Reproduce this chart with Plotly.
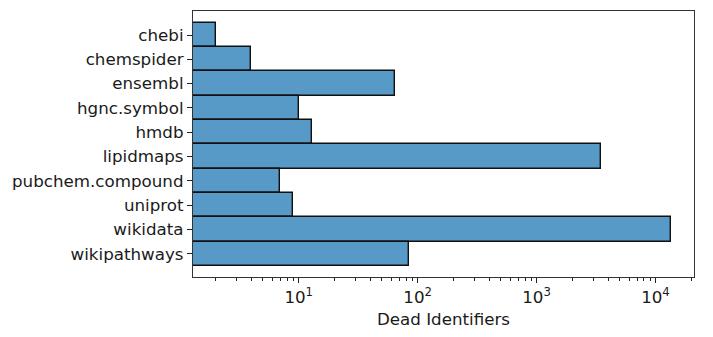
import plotly.graph_objects as go

categories = ["chebi", "chemspider", "ensembl", "hgnc.symbol", "hmdb",
              "lipidmaps", "pubchem.compound", "uniprot", "wikidata", "wikipathways"]
dead_counts = [2, 4, 65, 10, 13, 3470, 7, 9, 13600, 85]

major_ticks = [10, 100, 1000, 10000]
minor_ticks = [m * 10 ** e for e in range(0, 5) for m in range(2, 10) if m * 10 ** e < 21000]

FONT = "DejaVu Sans"
FS = 16.7

fig = go.Figure(go.Bar(
    y=categories,
    x=dead_counts,
    orientation="h",
    width=1.0,
    marker=dict(color="#5799c7", line=dict(color="#111111", width=1.4)),
))

fig.update_layout(
    width=713, height=337,
    margin=dict(l=193, r=19, t=11, b=60),
    plot_bgcolor="white", paper_bgcolor="white",
    bargap=0,
    showlegend=False,
    font=dict(family=FONT, size=FS, color="#1a1a1a"),
)

fig.update_xaxes(
    type="log",
    range=[0.111, 4.324],
    tickmode="array",
    tickvals=major_ticks,
    ticktext=["10<sup>1</sup>", "10<sup>2</sup>", "10<sup>3</sup>", "10<sup>4</sup>"],
    ticks="outside", ticklen=5, tickwidth=1.1, tickcolor="#222222",
    minor=dict(tickmode="array", tickvals=minor_ticks, ticks="outside",
               ticklen=3, tickwidth=0.9, tickcolor="#222222", showgrid=False),
    showline=True, linecolor="#333333", linewidth=1.2, mirror=True,
    showgrid=False, zeroline=False,
    title=dict(text="Dead Identifiers", font=dict(family=FONT, size=FS, color="#1a1a1a"), standoff=7),
)

fig.update_yaxes(
    type="category",
    categoryorder="array", categoryarray=categories,
    range=[9.96, -0.99],
    ticks="outside", ticklen=5, tickwidth=1.1, tickcolor="#222222",
    showline=True, linecolor="#333333", linewidth=1.2, mirror=True,
    showgrid=False, zeroline=False,
)

fig.write_html("out.html")
